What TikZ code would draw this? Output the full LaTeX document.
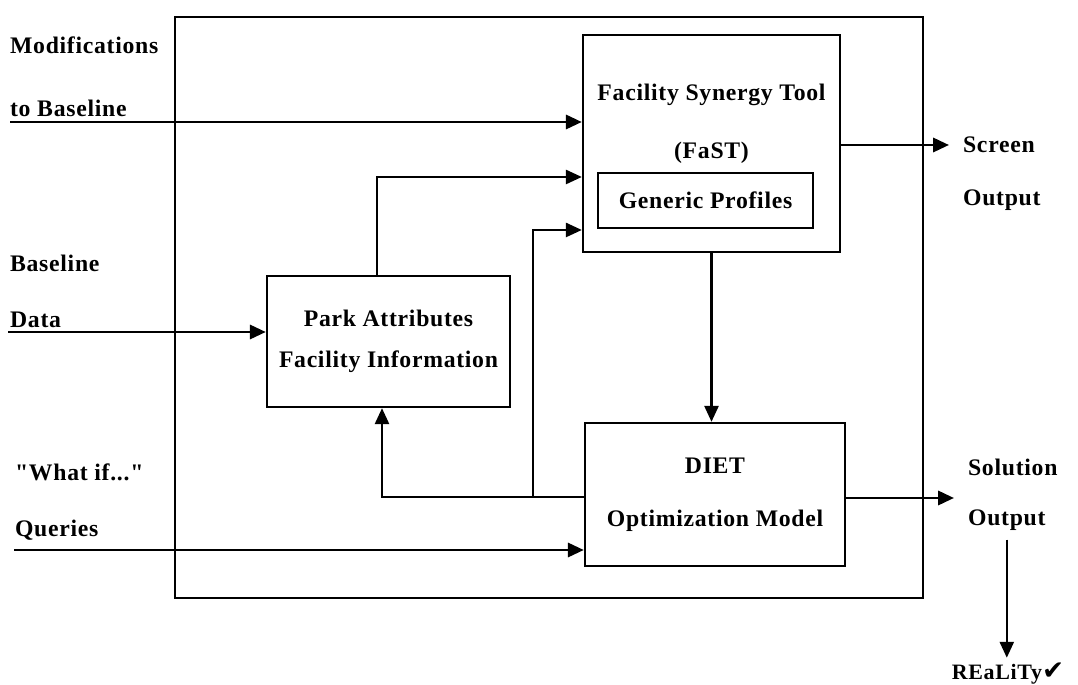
\documentclass[tikz,border=0pt]{standalone}
\usepackage{fontspec}
\setmainfont{Liberation Serif}[LetterSpace=3, Ligatures=TeXOff]
\newfontfamily\checkfont{DejaVu Sans}
\usetikzlibrary{positioning, arrows.meta}

\begin{document}
\begin{tikzpicture}[x=0.02cm, y=-0.02cm,
    box/.style={draw, line width=1.4pt, inner sep=0pt},
    txt/.style={font=\fontsize{13.5}{15}\selectfont\bfseries, inner sep=1pt},
    arr/.style={line width=1.6pt, -{Triangle[length=9pt, width=8pt]}},
    thin arr/.style={line width=1.2pt, -{Triangle[length=9pt, width=8pt]}}
  ]
  \useasboundingbox (0,0) rectangle (1078,685);

  % system boundary
  \draw[line width=1.5pt] (175,17) rectangle (923,598);

  % FaST block
  \node[box, minimum width=5.14cm, minimum height=4.34cm] (fast) at (711.5,143.5) {};
  \node[txt] (fastname) at (711.5,95) {Facility Synergy Tool};
  \node[txt] (fastabbr) at (711.5,153) {(FaST)};
  \node[box, txt, minimum width=4.3cm, minimum height=1.1cm] (gen) at (705.5,200.5) {Generic Profiles};

  % park data and DIET model
  \node[box, txt, minimum width=4.86cm, minimum height=2.62cm, align=center] (park)
       at (388.5,341.5) {Park Attributes\\[8pt]Facility Information};
  \node[box, txt, minimum width=5.2cm, minimum height=2.86cm, align=center] (diet)
       at (715,494.5) {DIET\\[15pt]Optimization Model};

  % inputs
  \node[txt, anchor=west] (mod1) at (8,45) {Modifications};
  \node[txt, anchor=west] (mod2) at (8,108) {to Baseline};
  \node[txt, anchor=west] (base1) at (8,263) {Baseline};
  \node[txt, anchor=west] (base2) at (8,320) {Data};
  \node[txt, anchor=west] (what1) at (13,472) {"What if..."};
  \node[txt, anchor=west] (what2) at (13,530) {Queries};

  % outputs
  \node[txt, anchor=west] (scr1) at (961,145) {Screen};
  \node[txt, anchor=west] (scr2) at (961,200) {Output};
  \node[txt, anchor=west] (sol1) at (966,467) {Solution};
  \node[txt, anchor=west] (sol2) at (966,520) {Output};
  \node[txt, font=\fontsize{12.5}{14}\selectfont\bfseries] (real) at (1008,674)
       {REaLiTy{\checkfont\fontsize{15}{15}\selectfont ✔}};

  \coordinate (modin) at (10,122);
  \coordinate (datain) at (8,332);
  \coordinate (qin) at (14,550);
  \coordinate (scrout) at (949,145);
  \coordinate (solout) at (954,498);
  \coordinate (fb) at (533,497);

  % connections
  \draw[arr] (modin) -- (modin -| fast.west);
  \draw[arr] (datain) -- (datain -| park.west);
  \draw[arr] (qin) -- (qin -| diet.west);
  \draw[thin arr] ([xshift=-0.23cm]park.north) |- ([yshift=-0.67cm]fast.west);
  \draw[thin arr] (diet.west |- fb) -| ([xshift=-0.13cm]park.south);
  \draw[thin arr] (fb) |- ([yshift=-1.73cm]fast.west);
  \draw[thin arr] (fast.south) -- (fast.south |- diet.north);
  \draw[arr] (fast.east |- scrout) -- (scrout);
  \draw[arr] (diet.east |- solout) -- (solout);
  \draw[thin arr] ([yshift=-4pt]sol2.south) -- ([yshift=2pt]sol2.south |- real.north);
\end{tikzpicture}
\end{document}
